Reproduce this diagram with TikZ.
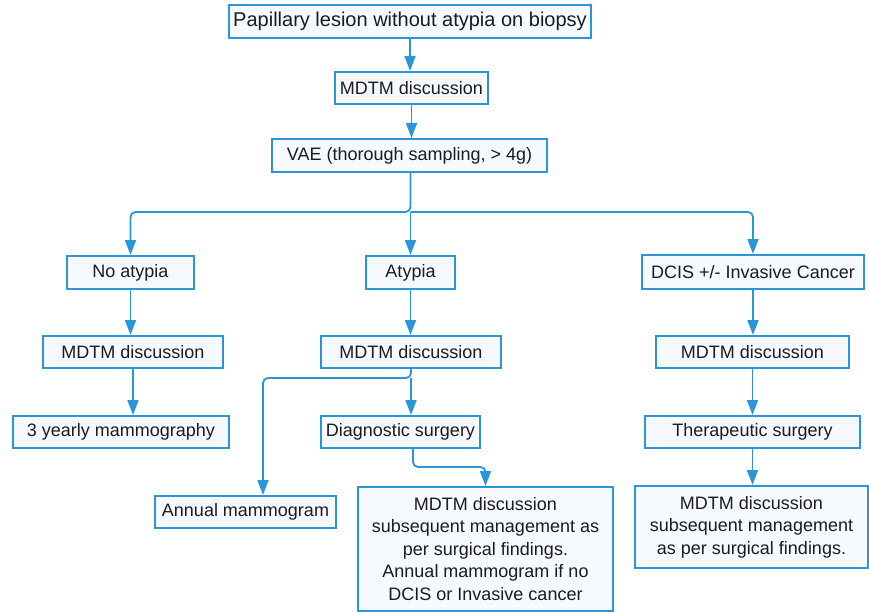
\documentclass[tikz,border=0pt]{standalone}
\usepackage{fontspec}
\setmainfont{Liberation Sans}
\usepackage{xcolor}
\usetikzlibrary{arrows.meta,positioning}

\definecolor{flowblue}{HTML}{2B95D8}
\definecolor{boxfill}{HTML}{F6F9FE}
\definecolor{flowtext}{HTML}{1C1C1C}

\tikzset{
  box/.style={rectangle, draw=flowblue, line width=2pt, fill=boxfill, text=flowtext,
    inner sep=0pt, align=center, font=\fontsize{18}{22.5}\selectfont},
  link/.style={draw=flowblue, line width=1.8pt, rounded corners=5pt,
    -{Triangle[width=11pt,length=15pt]}}
}

\begin{document}
\begin{tikzpicture}[x=1pt,y=-1pt]
\useasboundingbox (0,0) rectangle (869,612);

\node (lesion) [box, minimum width=362, minimum height=33, font=\fontsize{20}{24}\selectfont] at (410,21.5) {Papillary lesion without atypia on biopsy};
\node (mdtmtop) [box, minimum width=153, minimum height=32] at (411.5,88) {MDTM discussion};
\node (vae) [box, minimum width=275, minimum height=33] at (409.5,155.5) {VAE (thorough sampling, > 4g)};

\node (noatypia) [box, minimum width=127, minimum height=33] at (130.5,272.5) {No atypia};
\node (atypia) [box, minimum width=89, minimum height=33] at (410.5,272.5) {Atypia};
\node (dcis) [box, minimum width=222, minimum height=34] at (753,272) {DCIS +/- Invasive Cancer};

\node (mdtmleft) [box, minimum width=180, minimum height=32] at (133,352) {MDTM discussion};
\node (mdtmmid) [box, minimum width=180, minimum height=32] at (411,352) {MDTM discussion};
\node (mdtmright) [box, minimum width=193, minimum height=32] at (752.5,352) {MDTM discussion};

\node (mammo3) [box, minimum width=216, minimum height=32] at (121,432) {3 yearly mammography};
\node (diagsurg) [box, minimum width=159, minimum height=32] at (400.5,432) {Diagnostic surgery};
\node (therasurg) [box, minimum width=215, minimum height=32] at (752.5,432) {Therapeutic surgery};

\node (annual) [box, minimum width=181, minimum height=32] at (245.5,512) {Annual mammogram};
\node (resultmid) [box, minimum width=255, minimum height=124] at (485.5,549) {MDTM discussion\\subsequent management as\\per surgical findings.\\Annual mammogram if no\\DCIS or Invasive cancer};
\node (resultright) [box, minimum width=233, minimum height=82] at (751.5,527) {MDTM discussion\\subsequent management\\as per surgical findings.};

% branch points
\coordinate (split) at (410.5,212);
\coordinate (splitmid) at (411,378);
\coordinate (bend) at (413,467);

\draw[link] (lesion) -- (lesion |- mdtmtop.north);
\draw[link] (mdtmtop) -- (mdtmtop |- vae.north);
\draw[link] (vae.south -| split) -- (split) -| (noatypia.north);
\draw[link] (split) -| (dcis.north);
\draw[link] (split) -- (atypia.north);

\draw[link] (noatypia) -- (noatypia |- mdtmleft.north);
\draw[link] (atypia) -- (atypia |- mdtmmid.north);
\draw[link] (dcis) -- (dcis |- mdtmright.north);

\draw[link] (mdtmleft) -- (mdtmleft |- mammo3.north);
\draw[link] (mdtmmid.south) -- (splitmid) -| ([xshift=17.5pt]annual.north);
\draw[link] (splitmid) -- (splitmid |- diagsurg.north);
\draw[link] (mdtmright) -- (mdtmright |- therasurg.north);

\draw[link] (diagsurg.south -| bend) -- (bend) -| (resultmid.north);
\draw[link] (therasurg) -- (therasurg |- resultright.north);
\end{tikzpicture}
\end{document}
